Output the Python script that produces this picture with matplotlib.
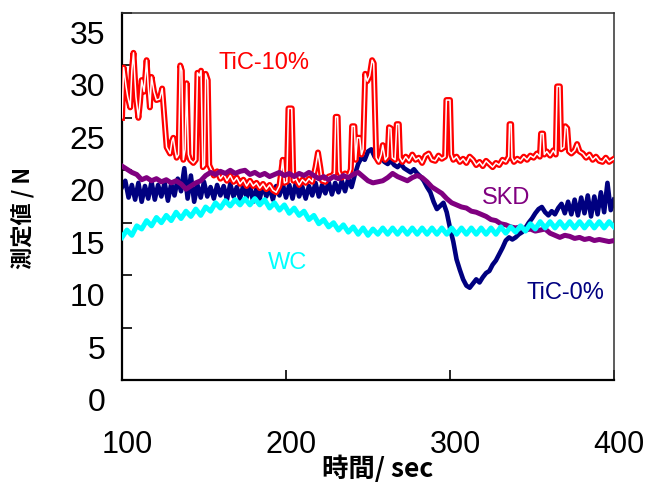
import matplotlib
matplotlib.use("Agg")
import matplotlib.pyplot as plt
from matplotlib import font_manager as fm
from matplotlib.transforms import blended_transform_factory, ScaledTranslation

# ---------------- data ----------------
red_t = [100, 101, 102.5, 103.5, 105, 106, 107, 108, 108.5, 110, 111, 112, 113.5, 115, 116, 117,
         118, 119.5, 121, 123, 124.5, 125.8, 127.2, 129.3, 130.5, 131.3, 132.5, 133.3, 134.5, 135.5,
         136.5, 137.4, 138.5, 139.4, 140.5, 141.5, 143.5, 145, 146, 147.2, 148.2, 149.3, 150.3, 151,
         152.3, 153.2, 154.3,
         156, 158, 160, 162, 164, 166, 168, 170, 172, 174, 176, 178, 180, 182, 184, 186, 188, 190,
         192, 194, 196, 198, 199, 200.5, 201.5, 203.5, 204.5, 206, 208, 210, 212, 214, 216, 218,
         219.5, 221, 222, 224, 226, 228, 229.5, 230.3, 231.5, 232.3, 234, 236, 238, 239.5, 240.3,
         241.7, 242.5, 243.5, 245, 246, 247, 248.3, 249.5, 251, 252.5, 253.5, 255, 256.5, 258, 259,
         260.5, 262, 262.8, 264, 264.8, 266.5, 267.5, 268.8, 269.5, 271, 273, 275, 277, 279, 281,
         283, 285, 287, 289, 291, 293, 295, 297, 297.8, 300, 300.8, 302, 304, 306, 308, 310, 312,
         314, 316, 318, 320, 322, 324, 326, 328, 330, 332, 334, 335.8, 336.3, 337.3, 337.8, 339,
         341, 343, 345, 347, 349, 351, 353, 354.8, 355.5, 356.8, 357.5, 359, 361, 363, 364.5, 365.3,
         367, 367.8, 369.5, 370.3, 371.5, 372.5, 374, 376, 377.5, 379, 381, 383, 385, 387, 389, 391,
         393, 395, 397, 400]
red_v = [25.0, 29.8, 28.0, 27.0, 26.0, 29.5, 31.2, 28.5, 27.0, 25.0, 26.5, 28.6, 27.5, 30.5, 28.0, 26.0,
         28.9, 27.5, 26.7, 26.8, 27.8, 25.1, 22.2, 21.6, 22.8, 23.1, 21.8, 21.2, 21.5, 30.0,
         29.5, 21.0, 22.0, 28.3, 21.5, 21.0, 20.7, 21.0, 29.3, 29.0, 29.5, 20.3, 20.5, 29.2,
         28.6, 20.5, 20.1,
         19.5, 19.9, 19.2, 19.6, 19.0, 19.5, 18.9, 19.3, 18.7, 19.1, 18.5, 19.0, 18.5, 18.8, 18.3, 18.7, 18.2, 18.6,
         18.1, 17.9, 18.5, 21.0, 18.8, 18.9, 25.9, 25.9, 19.0, 19.2, 18.6, 19.1, 18.8, 19.2, 18.9, 20.3,
         21.7, 20.2, 19.0, 18.9, 19.4, 19.5, 19.7, 25.1, 25.1, 19.9, 19.3, 19.7, 19.4, 20.1, 24.2,
         24.2, 21.0, 23.1, 23.1, 21.5, 22.0, 29.2, 28.5, 29.0, 30.5, 30.2, 21.2, 20.8, 21.5, 22.4,
         21.0, 21.3, 24.1, 24.0, 21.2, 21.0, 24.4, 24.4, 21.2, 20.8, 21.3, 20.9, 21.5, 21.0, 21.2,
         20.7, 21.4, 21.6, 21.0, 20.9, 21.4, 21.1, 21.3, 26.7, 26.7, 21.5, 21.0, 21.3, 20.8, 21.1, 20.7, 21.3,
         21.0, 20.5, 20.8, 20.4, 20.9, 20.6, 20.3, 20.7, 20.5, 21.0, 20.8, 21.3, 24.4, 24.4, 21.2, 20.8,
         21.1, 20.9, 21.3, 21.0, 21.4, 21.2, 21.6, 21.3, 23.5, 23.5, 21.5, 21.8, 21.4, 21.9, 21.5, 28.0,
         28.0, 22.0, 22.2, 24.2, 24.0, 21.8, 21.6, 21.9, 22.5, 21.8, 21.6, 21.2, 21.5, 21.0, 21.3, 20.9,
         20.8, 21.2, 20.8, 21.1]

navy_t = list(range(100, 402, 2))
navy_v = [18.4, 19.0, 17.4, 18.6, 17.2, 18.8, 17.0, 18.5, 17.3, 18.9, 17.2, 18.6, 17.5, 18.8, 17.1, 18.7,
          17.6, 19.2, 18.0, 20.2, 17.3, 19.5, 17.0, 18.6, 17.4, 18.9, 17.5, 18.4, 17.3, 18.6, 17.6, 18.5,
          17.2, 18.7, 17.5, 18.4, 17.3, 18.6, 17.4, 18.5, 17.0, 18.3, 17.3, 18.6, 17.5, 18.4, 17.2, 18.5,
          17.6, 18.7, 17.4, 18.6, 17.3, 18.8, 17.5, 18.4, 17.3, 18.5, 17.6, 18.8, 17.5, 18.6, 17.8, 18.9,
          17.7, 18.8, 17.9, 19.0, 18.0, 19.2, 18.4, 19.6,
          20.6, 21.2, 21.0, 21.8, 22.0, 21.3, 21.0, 21.2, 20.8, 20.6, 20.9, 20.5, 20.3, 20.6, 20.2, 20.0,
          19.8, 20.1, 19.7, 19.4, 19.0, 18.4, 17.9, 17.0, 16.3, 16.6, 16.9, 16.0, 14.5, 13.2, 11.5, 10.5,
          9.6, 9.0, 8.8, 9.2, 9.6, 9.3, 9.8, 10.2, 10.4, 11.0, 11.4, 12.0, 12.6, 13.3, 13.6, 13.4,
          13.6, 13.9, 14.1, 14.5, 15.0, 15.4, 15.9, 16.3, 16.5, 16.0, 15.7, 16.1, 15.8, 16.4, 16.8, 15.9,
          17.0, 15.8, 17.2, 15.7, 17.4, 15.9, 17.6, 15.6, 17.5, 15.8, 17.9, 16.0, 18.8, 16.2, 17.2]

purple_t = list(range(100, 403, 3))
purple_v = [20.4, 20.1, 19.8, 19.6, 19.1, 19.3, 19.0, 19.2, 18.9, 19.1, 18.8, 19.0, 18.7, 18.2, 18.5, 18.8,
            19.0, 19.5, 19.8, 19.6, 19.9, 19.7, 20.0, 19.7, 19.9, 20.0, 19.6, 19.8, 19.5, 19.7, 19.4, 19.6,
            19.8, 19.5, 19.7, 19.4, 19.7, 19.5, 19.8, 19.5, 19.2, 19.4, 19.1, 19.4, 19.2, 19.5, 19.3, 19.6,
            19.8, 19.4, 19.0, 18.8, 18.9, 19.0, 19.3, 19.7, 19.4, 19.2, 19.0, 19.3, 19.5, 19.3, 18.9, 18.4,
            18.1, 17.8, 17.3, 16.9, 16.7, 16.5, 16.4, 16.1, 16.0, 15.8, 15.6, 15.3, 15.2, 14.9, 14.8, 14.6,
            14.5, 14.6, 14.3, 14.4, 14.2, 14.3, 14.4, 14.0, 13.8, 13.6, 13.8, 13.7, 13.5, 13.6, 13.4, 13.5,
            13.3, 13.4, 13.3, 13.2, 13.3]

cyan_t = list(range(100, 403, 3))
cyan_v = [13.6, 14.3, 13.8, 14.7, 14.4, 15.2, 14.7, 15.5, 15.0, 15.7, 15.2, 16.0, 15.4, 16.1, 15.6, 16.3,
          15.7, 16.5, 16.1, 16.9, 16.4, 17.1, 16.6, 17.2, 16.7, 17.3, 16.7, 17.3, 16.7, 17.2, 16.4, 16.9,
          16.2, 16.7, 15.9, 16.4, 15.7, 16.1, 15.3, 15.7, 14.9, 15.3, 14.6, 15.0, 14.3, 14.8, 14.1, 14.6,
          13.9, 14.5, 13.8, 14.4, 13.9, 14.5, 13.9, 14.5, 13.9, 14.5, 13.9, 14.5, 13.9, 14.5, 13.9, 14.5,
          13.9, 14.5, 13.9, 14.5, 13.9, 14.5, 13.9, 14.5, 13.9, 14.5, 13.9, 14.5, 13.9, 14.6, 14.0, 14.6,
          14.1, 14.7, 14.2, 14.9, 14.4, 15.1, 14.5, 15.1, 14.5, 15.1, 14.5, 15.1, 14.5, 15.1, 14.5, 15.1,
          14.5, 15.1, 14.5, 15.1, 14.6]

x_ticks = [100, 200, 300, 400]
y_ticks = [0, 5, 10, 15, 20, 25, 30, 35]
series_labels = ["TiC-10%", "SKD", "WC", "TiC-0%"]

# ---------------- fonts ----------------
def have(name):
    try:
        fm.findfont(fm.FontProperties(family=name), fallback_to_default=False)
        return True
    except Exception:
        return False

narrow = "Liberation Sans Narrow" if have("Liberation Sans Narrow") else None
axis_font = "Liberation Sans"
cjk = ["Noto Sans CJK JP", "DejaVu Sans"]

# ---------------- figure ----------------
W, H, DPI = 649, 484, 100
fig = plt.figure(figsize=(W / DPI, H / DPI), dpi=DPI)
L, R, T, B = 122, 614, 13, 380
ax = fig.add_axes([L / W, 1 - B / H, (R - L) / W, (B - T) / H])
ax.set_xlim(100, 400)
ax.set_ylim(0, 35)

ax.plot(navy_t, navy_v, color="#000080", lw=3.3, zorder=2, solid_joinstyle="round")
ax.plot(red_t, red_v, color="#FF0000", lw=4.3, zorder=3, solid_joinstyle="round")
ax.plot(red_t, red_v, color="white", lw=1.1, zorder=3.1, solid_joinstyle="round")
ax.plot(purple_t, purple_v, color="#800080", lw=3.6, zorder=4, solid_joinstyle="round")
ax.plot(cyan_t, cyan_v, color="#00FFFF", lw=3.6, zorder=5, solid_joinstyle="round")

for s in ("left", "bottom"):
    ax.spines[s].set_linewidth(1.6)
    ax.spines[s].set_color("black")
for s in ("top", "right"):
    ax.spines[s].set_linewidth(1.1)
    ax.spines[s].set_color("#303030")

ax.set_xticks(x_ticks)
ax.set_yticks(y_ticks)
ax.tick_params(direction="in", length=7, width=1.2, labelleft=False, labelbottom=False)

px = 1.0 / DPI
ytr = blended_transform_factory(ax.transAxes, ax.transData) + \
    ScaledTranslation(-17 * px, -31 * px, fig.dpi_scale_trans)
for v in y_ticks:
    ax.text(0, v, str(v), transform=ytr, ha="right", va="baseline",
            fontsize=23, family=axis_font, clip_on=False)
xtr = blended_transform_factory(ax.transData, ax.transAxes) + \
    ScaledTranslation(5 * px, -73 * px, fig.dpi_scale_trans)
for v in x_ticks:
    ax.text(v, 0, str(v), transform=xtr, ha="center", va="baseline",
            fontsize=22, family=axis_font, clip_on=False)

fig.text(378 / W, 1 - 483 / H, "時間/ sec", ha="center", va="bottom",
         fontsize=19, fontweight="bold", family=cjk)
fig.text(22.5 / W, 1 - 218 / H, "測定値 / N", ha="center", va="center",
         rotation=90, fontsize=16, fontweight="bold", family=cjk)

lab_font = narrow if narrow else axis_font
lab_size = 20 if narrow else 17
lab_pos = [(264, 63, "#FF0000"), (506, 198, "#800080"), (288, 263, "#00FFFF"), (565, 293, "#000080")]
for text, (x, y, c) in zip(series_labels, lab_pos):
    fig.text(x / W, 1 - y / H, text, ha="center", va="center", color=c,
             fontsize=lab_size, family=lab_font)

fig.savefig("out.png", dpi=DPI)
